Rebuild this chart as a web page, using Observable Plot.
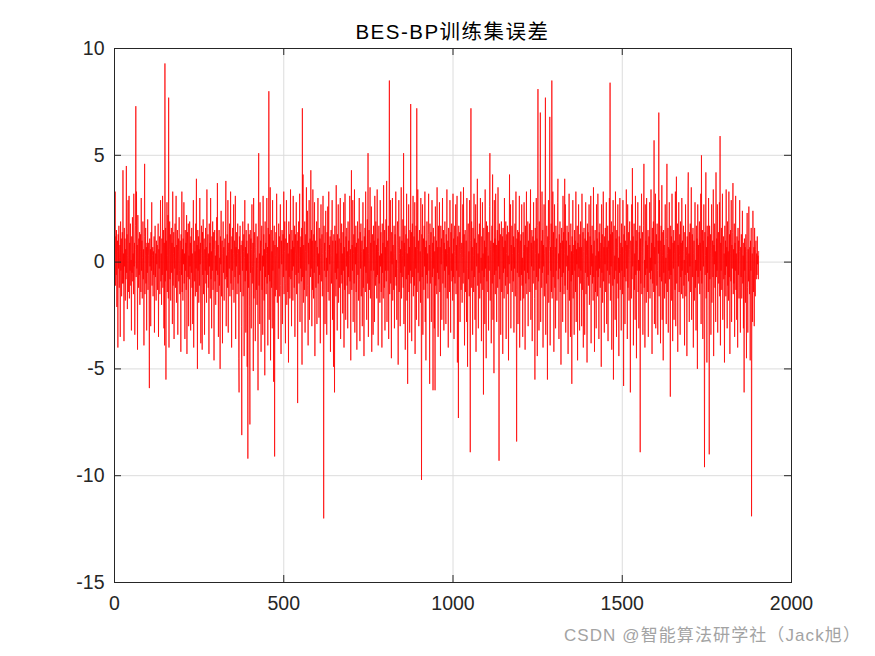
<!DOCTYPE html>
<html>
<head>
<meta charset="utf-8">
<script src="https://cdn.jsdelivr.net/npm/d3@7"></script>
<script src="https://cdn.jsdelivr.net/npm/@observablehq/plot@0.6"></script>
<style>
  html, body { margin: 0; padding: 0; background: #fff; }
  #chart { position: relative; width: 875px; height: 656px; }
</style>
</head>
<body>
<div id="chart"></div>
<script>
const titleText = "BES-BP训练集误差";
const footerText = "CSDN @智能算法研学社（Jack旭）";
const xTicks = [0, 500, 1000, 1500, 2000];
const yTicks = [-15, -10, -5, 0, 5, 10];
const xDomain = [0, 2000];
const yDomain = [-15, 10];

// training-set error per sample (1903 samples)
const trainError = [
0.4,3.3,-1.1,1.2,-0.6,1.5,-2.1,0.5,1.0,-4.0,1.3,-0.3,1.7,-1.2,0.2,0.8,-3.5,1.9,-0.4,1.1,-1.6,0.6,1.4,-1.0,4.3,
-1.0,0.4,-3.7,1.6,-0.2,1.1,-1.8,0.6,-0.8,4.5,-0.5,1.3,-2.2,0.3,2.9,-1.4,0.2,3.1,-1.7,0.9,-0.4,1.8,-1.1,0.1,-3.2,
1.2,-0.5,2.1,-0.9,0.4,-1.5,3.2,-0.2,0.9,-3.4,0.6,1.7,7.3,-0.7,3.3,-0.3,0.8,-4.1,2.2,0.2,-1.2,1.1,-0.6,1.4,-2.0,
0.5,1.3,-1.4,3.0,-0.4,1.0,-1.7,0.2,1.9,-0.8,0.6,-3.9,1.2,4.6,-1.5,0.3,1.6,-1.0,0.7,-3.2,0.9,-0.5,2.0,-1.3,0.3,
0.9,-1.1,-5.9,1.1,-0.2,0.6,-3.0,1.4,-0.4,2.8,-1.1,0.3,0.7,-1.6,0.5,-0.6,1.2,-3.3,0.1,1.7,-0.7,0.4,-1.8,1.0,-0.1,
0.8,-1.3,0.4,1.8,-3.5,0.6,-0.3,1.2,-1.5,0.2,2.9,-0.9,0.4,-2.0,1.1,-0.6,3.1,-1.2,0.1,1.5,-3.1,0.9,-3.9,9.3,-0.9,
1.6,-5.5,1.0,-0.4,2.8,-1.4,0.3,2.2,-1.7,7.7,-4.0,0.6,1.9,-0.8,1.3,-1.8,0.1,1.6,-0.5,0.9,-2.9,3.3,-1.1,0.4,1.4,
-3.6,0.7,-0.3,1.8,-1.2,0.2,3.1,-1.9,0.8,-0.6,1.5,-3.4,0.5,1.1,-0.9,2.1,-0.4,-1.5,1.0,0.1,-4.2,1.3,-0.6,3.3,-1.4,
0.6,-1.8,1.1,-0.1,2.8,-1.0,0.4,-3.6,1.5,-0.4,0.9,-1.3,2.2,-4.3,0.6,1.4,-0.7,1.8,-3.0,0.3,-0.8,1.9,-0.2,0.9,-3.2,
1.2,-0.5,1.6,-1.2,0.4,-2.9,0.7,2.9,-4.0,0.2,1.0,-0.9,0.5,-1.6,1.8,-0.3,3.9,-1.4,0.8,-5.0,1.5,-0.4,1.2,-1.9,0.6,
-1.1,3.0,-0.1,0.9,-3.8,0.4,1.7,-0.7,-4.1,1.4,-0.6,2.0,-1.5,0.3,1.1,-3.4,0.6,-0.4,1.6,-1.0,0.7,-1.9,3.4,-0.6,0.2,
1.3,-1.2,0.4,-4.3,1.8,-0.2,0.9,-1.7,3.0,-0.8,0.5,-3.1,1.2,-0.4,1.9,-1.3,0.1,1.4,-4.6,0.6,1.5,-0.9,0.3,-2.0,1.0,
-0.4,2.1,-1.4,3.7,-0.6,0.8,-3.5,0.4,1.5,-1.1,0.2,-5.0,1.2,-0.1,2.4,-1.6,0.7,1.0,-3.8,0.4,1.9,-0.5,0.7,-1.8,0.1,
1.1,-0.8,1.5,3.8,-3.0,0.3,-0.7,1.3,-1.2,2.9,-3.3,0.5,0.9,-0.3,1.8,-1.6,0.1,3.3,-1.0,0.6,-4.0,1.2,-0.4,1.6,-1.3,
0.4,2.7,-1.9,0.2,1.0,-0.7,3.1,-3.6,0.7,-0.2,1.4,-1.5,0.4,1.8,-1.0,0.6,-4.5,-6.1,1.2,-0.6,1.7,-1.4,0.3,0.8,-3.0,
-8.1,1.0,-0.4,1.9,-1.6,0.5,1.3,-4.4,0.2,2.9,-0.9,0.7,-3.3,1.5,-0.4,1.0,-4.9,0.4,-9.2,1.8,-1.2,0.2,1.3,-2.1,-7.6,
1.5,-0.5,1.1,-3.1,0.6,2.7,-1.0,-0.2,0.9,-5.1,3.0,-1.7,0.4,1.4,-0.7,-3.7,0.7,1.8,-1.3,0.2,-2.0,1.2,-0.3,-6.0,1.6,
5.1,-1.1,0.4,-2.9,2.8,-0.4,1.0,-4.2,0.7,1.7,-1.3,0.3,-3.4,3.1,-0.2,1.3,-1.8,0.6,-5.3,1.9,-0.7,0.9,-1.5,0.4,3.0,
-1.0,0.7,-3.9,1.6,-0.6,8.0,-2.7,1.3,-0.9,3.5,-4.6,0.2,1.5,-1.2,0.5,-3.1,2.9,-0.4,1.0,-5.6,0.4,1.7,-9.1,0.8,-1.6,
0.3,1.4,-1.3,3.2,-0.5,-1.9,0.7,0.1,-3.6,1.8,-0.3,1.2,-1.6,0.6,2.7,-1.1,-4.3,1.0,-0.1,1.5,-2.9,0.4,1.3,-0.7,3.3,
-1.5,0.5,1.9,-1.0,-3.8,1.1,-0.4,2.9,-2.0,0.2,0.9,-1.4,0.4,-4.7,1.9,-0.7,1.3,-1.7,0.1,3.4,-0.8,0.6,-3.0,1.5,-0.4,
1.0,-1.8,3.1,-0.2,0.7,-1.2,1.7,-3.5,0.4,1.3,-0.6,2.8,-1.5,0.3,1.0,-6.6,1.4,-0.5,1.9,-1.0,0.2,3.2,-2.8,0.7,-0.3,
1.2,-0.9,1.6,-4.8,7.2,-0.7,4.1,-1.9,0.8,0.2,-1.3,1.9,-3.3,0.5,1.3,-0.4,3.5,-1.6,0.4,2.4,-1.1,-3.9,0.9,-0.1,2.9,
-2.7,0.6,1.1,-0.7,4.3,-0.3,1.5,-3.0,1.0,-1.3,3.4,0.2,-1.7,1.3,-0.5,2.8,-4.4,0.7,1.0,-1.2,0.3,1.9,-2.9,0.7,-0.2,
3.0,-1.0,0.4,-2.6,1.6,-0.6,1.1,-3.8,0.2,2.7,-0.9,0.7,1.3,-1.6,0.4,3.1,-1.3,-12.0,1.7,-0.4,0.9,-2.9,0.5,2.4,-0.7,
0.2,-3.4,1.4,-0.4,2.6,-1.4,0.6,3.3,-1.8,0.8,-0.1,1.2,-4.2,0.4,1.5,-1.0,0.3,2.9,-2.7,1.0,-0.7,-4.9,1.3,0.1,-6.1,
1.7,-0.5,1.0,-1.6,3.6,-0.8,0.4,-3.2,1.3,-0.3,2.7,-1.9,0.7,1.1,-1.2,0.1,3.0,-3.6,0.9,-0.6,1.8,-1.0,0.4,-2.4,1.4,
-0.4,2.8,-4.0,0.7,-1.3,3.2,0.2,-2.7,1.2,-0.2,1.6,-1.1,0.5,-3.1,1.9,-0.7,1.0,-1.5,0.3,3.1,-0.9,0.6,-4.6,1.6,4.3,
-1.3,0.8,-0.4,2.9,-2.8,0.4,1.3,-1.0,3.4,-3.3,0.7,-0.1,1.7,-1.4,0.9,-4.1,0.4,1.9,-0.6,1.1,-1.8,0.2,3.0,-0.8,-3.7,
1.4,-0.3,1.8,-1.6,0.5,1.0,-3.0,0.1,2.8,-1.2,0.6,-4.4,1.2,-0.2,1.6,-1.4,3.3,-0.5,0.7,-2.7,0.4,2.0,-1.0,5.1,-3.5,
0.4,1.5,-1.3,0.2,3.5,-1.7,0.9,-0.4,2.6,-4.2,0.7,1.3,-0.8,-3.4,1.7,-0.4,1.0,-2.8,3.1,0.1,-1.1,1.9,-0.7,0.8,-1.7,
3.4,-0.6,1.1,-3.9,0.5,1.7,-1.0,0.3,-1.9,2.9,-0.2,1.4,-1.4,0.4,-4.0,1.8,-0.5,0.9,-1.7,3.6,0.1,-1.2,1.5,-3.2,0.7,
-0.4,2.0,-0.9,3.8,-2.8,0.7,1.0,-0.4,1.7,-3.6,1.2,8.5,-1.5,0.3,2.9,-1.0,0.5,-4.5,1.4,-0.1,3.0,-1.8,0.8,0.2,-1.3,
1.7,-3.1,0.4,1.3,-0.7,3.3,-1.1,0.1,-2.7,1.0,1.9,-0.3,-4.8,0.7,2.9,-1.4,0.4,1.2,-3.0,0.6,-0.5,3.5,-1.7,1.0,-0.7,
0.3,2.0,-1.2,5.1,-2.9,0.9,-0.2,1.7,-4.1,0.5,1.3,-0.8,3.2,-1.8,0.4,-5.7,1.1,-0.6,2.7,-1.4,0.7,-3.3,1.5,-0.4,7.4,
-1.0,1.4,-3.7,0.4,1.8,-0.7,3.1,-1.6,0.2,1.2,-1.1,2.8,-4.3,0.7,-0.3,1.7,-2.7,7.2,-1.4,0.6,3.4,-0.5,1.0,-3.0,0.1,
1.5,-0.9,0.5,-1.9,3.0,-0.4,-10.2,1.3,-0.7,2.7,-3.4,0.3,1.1,-1.3,1.7,-0.2,3.3,-2.8,0.7,-4.6,1.0,-0.6,1.9,-1.0,0.4,
-1.7,1.3,3.2,-0.4,0.8,-5.7,1.8,-1.0,0.6,1.4,-2.8,0.2,2.9,-0.7,0.9,-6.0,1.6,-0.3,1.2,-3.1,0.5,-6.0,2.6,-1.1,0.4,
1.0,-1.5,3.5,-0.5,0.7,-3.5,1.7,-0.8,0.3,2.8,-1.4,0.7,-4.4,1.7,-0.1,1.1,-2.7,0.4,3.0,-1.0,0.1,1.5,-3.2,0.9,-0.4,
1.9,-1.2,0.6,-2.9,1.3,-0.2,3.4,-1.7,0.4,1.0,-4.0,1.6,-0.6,0.7,-1.4,2.9,0.2,-3.3,1.4,-0.4,1.8,-0.9,0.4,-1.8,3.2,
-0.7,1.1,-3.6,0.5,1.7,-1.0,0.3,2.7,-1.5,0.8,-0.4,3.1,-4.7,1.2,-0.1,-7.3,1.7,-0.7,0.7,1.4,-2.8,0.4,3.3,-1.3,0.6,
0.9,-1.9,0.2,2.7,-1.0,3.5,-0.5,1.3,-3.9,0.4,1.5,-1.4,0.1,1.0,-2.8,3.0,-0.3,-4.9,0.8,1.8,-0.8,0.5,-1.6,2.9,-0.6,
-8.9,1.0,7.2,-1.2,1.9,-0.4,0.7,-3.4,1.6,0.3,-1.4,3.2,-0.7,1.1,-2.7,0.6,2.7,-4.2,0.9,-0.2,1.5,3.9,-1.1,0.4,-3.1,
1.3,-0.5,1.8,-1.7,0.7,3.0,-1.0,0.2,-3.7,1.2,-0.4,2.8,-1.3,0.4,-6.2,1.6,-0.7,1.0,-2.9,3.4,-0.3,0.7,-4.5,1.9,-0.9,
0.5,1.7,-1.4,0.3,-3.2,1.4,-0.4,2.6,5.1,-1.8,0.6,1.0,-3.8,0.1,1.7,-1.0,4.1,-2.7,0.4,0.9,-5.2,2.9,-0.6,1.1,-1.5,
3.2,-0.4,0.8,-2.8,0.7,1.5,-1.2,3.5,-0.2,1.0,-9.3,1.8,-0.8,0.4,1.3,-3.4,0.5,1.9,-1.4,0.2,1.2,-4.3,1.6,-0.5,0.7,
-1.7,3.0,-0.3,1.0,-1.1,1.9,-3.6,0.4,1.3,-0.7,1.7,-1.5,0.3,-4.6,1.4,-0.1,4.1,-1.0,0.6,2.7,-3.1,0.8,-0.4,1.7,-1.4,
0.4,2.9,-0.9,1.2,-3.3,0.7,-0.3,1.8,-1.6,0.9,3.3,-1.3,-8.4,1.1,-0.5,1.5,-2.9,0.4,1.4,-0.7,3.1,-4.0,0.6,1.0,-1.8,
1.3,-0.6,2.7,-1.1,0.2,-3.5,1.4,0.5,-1.7,2.8,-0.4,0.8,-4.1,1.7,-1.0,0.3,3.3,-1.5,0.7,-0.5,1.9,-3.0,1.0,-0.8,0.4,
1.8,-1.4,0.7,3.4,-2.7,0.9,-0.2,1.5,-3.7,0.6,1.2,-1.0,2.8,-0.4,1.0,-1.7,-5.5,1.6,0.4,-1.3,3.0,-0.7,1.1,-4.4,1.7,
8.1,-0.9,0.4,-3.2,1.9,-0.3,1.4,7.0,-2.8,0.7,1.0,-1.2,3.3,-0.5,1.5,-4.0,0.8,-0.2,2.7,-1.6,0.4,1.3,7.7,-3.4,0.7,
-1.0,1.7,0.3,-5.5,1.2,-0.6,2.9,-1.9,0.5,1.0,6.8,-3.9,0.7,-0.4,1.8,-1.4,8.5,-1.7,0.6,3.3,-0.7,1.4,-4.2,0.2,2.7,
-1.2,0.7,-3.1,1.7,-0.4,1.1,-1.8,0.1,2.8,3.9,-0.8,0.4,-3.6,1.3,-0.3,1.9,-1.4,0.9,-4.8,0.6,1.6,-0.7,1.0,-2.8,3.1,
-0.5,1.4,-1.5,0.4,3.9,-1.1,2.7,-3.3,0.7,1.0,-0.2,1.7,-1.3,0.3,-4.3,1.4,-0.4,3.2,-1.8,0.8,0.2,-3.5,1.8,-0.9,0.5,
-5.7,1.2,-0.6,2.9,-1.7,0.4,0.8,-3.4,1.5,-0.4,1.0,-1.4,3.3,-2.8,0.6,-0.1,1.7,-4.6,0.9,-0.7,2.7,-0.3,0.7,-3.2,1.3,
-1.0,1.9,-0.4,0.7,-3.0,3.2,-1.3,0.2,1.4,-4.0,0.5,1.6,-0.8,-3.4,1.1,-0.5,2.8,-1.5,0.3,1.0,-4.7,1.8,-0.7,1.4,-1.1,
0.6,2.7,-2.0,0.1,1.2,-0.6,3.1,-3.8,0.8,-0.2,1.7,-1.0,0.4,-1.8,3.5,-0.7,1.0,-4.2,0.7,1.5,-1.4,0.3,-3.1,2.7,-0.4,
1.1,-1.6,3.2,-0.7,0.5,-3.6,1.4,-0.3,1.8,-1.2,0.2,0.9,-4.9,2.7,-0.5,1.3,-1.9,0.4,3.3,-0.9,0.7,-3.3,1.2,-0.1,1.6,
-1.4,0.4,2.8,-2.9,0.7,-0.4,1.7,-3.7,0.6,1.0,-1.0,3.0,-0.6,8.4,-1.8,1.3,-0.2,1.9,-4.1,0.4,1.4,-1.1,2.9,-5.5,0.5,
1.7,-0.8,0.3,-2.7,3.3,-0.4,1.1,-3.5,1.5,-1.0,0.7,2.7,-1.7,0.2,-4.4,1.2,-0.5,3.0,-1.3,0.4,0.9,-3.2,1.8,-0.4,0.7,
-1.5,2.9,0.4,-5.8,1.3,-0.7,1.7,-2.9,0.5,1.0,-0.9,3.4,-0.3,0.8,-3.6,2.7,-1.2,0.2,1.4,-1.8,0.6,1.9,-0.7,-6.1,1.0,
0.3,-1.7,2.7,-0.8,4.4,-0.2,1.2,-3.9,0.7,1.8,-1.3,0.4,-2.7,3.1,-0.6,1.0,-4.5,1.5,-0.4,0.7,2.8,-1.4,0.1,-3.1,1.4,
-0.4,1.7,-8.9,1.1,-1.0,0.5,3.2,-1.5,0.3,1.4,-3.4,0.7,1.7,4.6,-1.2,0.1,-4.0,2.7,-0.6,1.0,-1.9,3.0,-0.3,0.8,-1.4,
1.5,-3.5,0.6,1.2,-0.5,2.8,-1.7,0.2,-0.8,3.4,-0.4,0.9,-4.3,1.6,-1.0,0.4,1.9,-1.4,5.7,-2.9,0.7,-0.1,3.2,-3.1,0.7,
1.3,-1.1,1.8,-0.4,-3.4,1.0,0.4,7.0,-1.6,2.9,-0.7,1.0,-3.8,0.5,1.7,-0.9,3.6,-2.7,0.3,1.4,-4.6,1.5,-0.5,0.8,-1.7,
0.7,2.7,-1.0,0.2,-2.9,1.1,4.6,-1.4,0.4,1.6,-3.3,0.7,-0.4,2.8,-0.8,0.6,-6.3,1.7,-0.6,1.2,-1.8,3.2,0.1,-3.7,0.9,
-0.3,1.5,-2.7,1.0,0.4,-1.3,3.3,-3.0,0.6,4.0,-1.0,0.4,1.8,-4.2,0.8,-0.2,2.8,-1.4,0.3,1.3,-3.4,1.9,-0.7,0.9,-1.5,
3.0,-0.4,1.0,-1.7,0.5,1.7,-1.1,0.1,-3.9,1.4,-0.6,2.7,-1.6,0.7,0.3,-4.4,1.2,-0.5,2.9,4.2,-0.9,0.4,-2.8,1.4,-0.2,
1.8,-1.4,0.6,3.5,-2.7,0.2,1.3,-0.7,1.6,-4.0,0.4,1.0,-1.8,0.7,2.8,-1.2,0.1,-3.2,1.7,-0.4,1.1,-5.0,2.7,-0.7,0.8,
-1.0,0.5,1.9,-1.5,0.9,-0.4,3.2,-2.9,5.0,-1.0,0.4,1.5,-3.6,1.0,-0.2,2.7,-1.3,-9.6,1.4,-0.6,0.3,4.2,-1.7,0.7,-4.7,
1.7,-0.5,1.2,-1.4,3.0,-0.3,-9.0,1.7,-0.8,0.4,1.3,-3.4,0.7,2.7,-1.9,0.2,1.0,-0.7,3.4,-4.4,0.8,-0.1,1.8,-1.2,0.5,
-2.8,4.2,-0.7,1.1,-0.4,2.7,-3.3,0.6,1.4,-1.0,0.1,2.8,-1.6,5.9,-3.9,0.9,-0.4,1.6,-1.3,0.7,3.2,-2.7,0.3,1.2,-0.8,
0.4,-4.7,1.7,-0.6,1.0,-1.6,3.4,-0.2,0.7,-3.1,1.9,-1.1,0.5,-1.8,3.3,-0.7,1.3,-4.3,0.4,1.5,-0.9,2.9,-2.8,0.8,-0.3,
1.4,3.7,-1.5,0.6,-1.0,1.8,-3.5,0.9,-0.4,3.1,-1.3,0.4,-2.7,1.2,0.2,-4.0,1.6,-0.6,1.0,-1.7,0.5,2.9,-1.2,-3.3,0.7,
-0.7,1.3,-1.7,0.4,2.4,-1.0,0.3,-3.1,0.9,-6.1,1.1,-0.4,0.7,-1.9,1.3,-0.6,-4.5,0.5,2.3,-1.2,-3.3,0.6,-0.9,2.6,-0.3,
-1.5,0.7,-4.6,1.0,-0.4,1.6,-11.9,-1.1,0.4,-2.8,2.4,-0.2,-1.4,0.7,-3.0,1.6,-0.5,-1.6,0.6,1.0,-0.8,0.4,-0.6,1.2,-0.1,
0.3,-0.8,0.5
];

const points = trainError.map((v, i) => ({ index: i + 1, error: v }));

const W = 875, H = 656;
const mL = 114, mR = 84, mT = 48, mB = 74;
const frameW = W - mL - mR, frameH = H - mT - mB;
const tickLen = 7;
const axisColor = "#262626";

const chart = Plot.plot({
  width: W,
  height: H,
  marginLeft: mL,
  marginRight: mR,
  marginTop: mT,
  marginBottom: mB,
  style: {
    fontFamily: "'Liberation Sans', Arial, 'Noto Sans CJK SC', sans-serif",
    fontSize: "19.5px",
    color: axisColor,
    background: "#fff",
    overflow: "visible"
  },
  x: { domain: xDomain, label: null },
  y: { domain: yDomain, label: null },
  marks: [
    Plot.gridX(xTicks, { stroke: "#dcdcdc", strokeOpacity: 1, strokeWidth: 1 }),
    Plot.gridY(yTicks, { stroke: "#dcdcdc", strokeOpacity: 1, strokeWidth: 1 }),
    Plot.line(points, { x: "index", y: "error", stroke: "#ff0000", strokeWidth: 0.75 }),
    Plot.frame({ stroke: axisColor, strokeWidth: 1 }),
    Plot.tickX(xTicks, { x: d => d, insetTop: frameH - tickLen, stroke: axisColor }),
    Plot.tickX(xTicks, { x: d => d, insetBottom: frameH - tickLen, stroke: axisColor }),
    Plot.tickY(yTicks, { y: d => d, insetRight: frameW - tickLen, stroke: axisColor }),
    Plot.tickY(yTicks, { y: d => d, insetLeft: frameW - tickLen, stroke: axisColor }),
    Plot.axisX(xTicks, { tickSize: 0, tickPadding: 14, tickFormat: d => String(d), label: null, fill: axisColor }),
    Plot.axisY(yTicks, { tickSize: 0, tickPadding: 10, tickFormat: d => String(d), label: null, fill: axisColor })
  ]
});

const svg = d3.select(chart);
svg.append("text")
  .attr("x", (mL + W - mR) / 2)
  .attr("y", 38.5)
  .attr("text-anchor", "middle")
  .attr("fill", "#000")
  .style("font-family", "'Liberation Sans', Arial, 'Noto Sans CJK SC', sans-serif")
  .style("font-size", "20.5px")
  .style("letter-spacing", "1.5px")
  .text(titleText);

svg.append("text")
  .attr("x", 861)
  .attr("y", 641)
  .attr("text-anchor", "end")
  .attr("fill", "#a3a3a3")
  .style("font-family", "'Liberation Sans', Arial, 'Noto Sans CJK SC', sans-serif")
  .style("font-size", "17px")
  .style("letter-spacing", "1.1px")
  .text(footerText);

document.getElementById("chart").appendChild(chart);
</script>
</body>
</html>
